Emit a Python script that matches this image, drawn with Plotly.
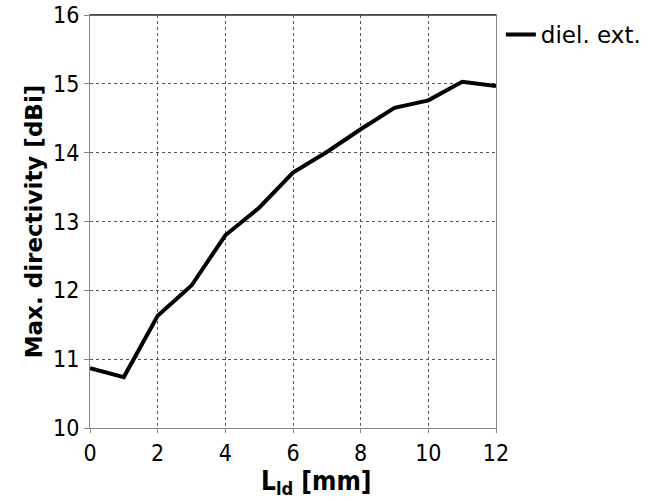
import plotly.graph_objects as go

# Dielectric extension length vs. maximum directivity
l_ld_mm = [0, 1, 2, 3, 4, 5, 6, 7, 8, 9, 10, 11, 12]
max_directivity_dbi = [10.87, 10.74, 11.63, 12.07, 12.80, 13.20, 13.71, 14.01, 14.34, 14.65, 14.76, 15.03, 14.97]
x_ticks = [0, 2, 4, 6, 8, 10, 12]
y_ticks = [10, 11, 12, 13, 14, 15, 16]

FONT = "DejaVu Sans"
FONT_C = "DejaVu Sans Condensed, DejaVu Sans"

fig = go.Figure()
fig.add_trace(go.Scatter(
    x=l_ld_mm, y=max_directivity_dbi, mode="lines", name="diel. ext.",
    line=dict(color="black", width=4),
))

fig.update_layout(
    width=658, height=501,
    margin=dict(l=90, r=162, t=15, b=73),
    paper_bgcolor="white", plot_bgcolor="white",
    font=dict(family=FONT, color="black"),
    showlegend=True,
    legend=dict(x=1.012, y=1.005, xanchor="left", yanchor="top",
                font=dict(family=FONT, size=23), bgcolor="rgba(0,0,0,0)",
                itemwidth=30, tracegroupgap=0),
    xaxis=dict(
        range=[0, 12], tickvals=x_ticks, ticktext=[str(v) for v in x_ticks],
        showgrid=True, gridcolor="#555", griddash="dot", gridwidth=1,
        showline=True, linecolor="#888", linewidth=1, mirror=True,
        ticks="outside", ticklen=4, tickcolor="#888",
        tickfont=dict(family=FONT_C, size=23),
        zeroline=False, automargin=False,
    ),
    yaxis=dict(
        range=[10, 16], tickvals=y_ticks,
        showgrid=True, gridcolor="#555", griddash="dot", gridwidth=1,
        showline=True, linecolor="#888", linewidth=1, mirror=True,
        ticks="outside", ticklen=5, tickcolor="#888",
        tickfont=dict(family=FONT_C, size=23),
        title=dict(text="<b>Max. directivity [dBi]</b>", font=dict(family=FONT, size=23), standoff=4),
        zeroline=False, automargin=False,
    ),
)

# x-axis title, placed slightly right of the plot centre
fig.add_annotation(
    text="<b>L<sub>ld</sub> [mm]</b>", xref="paper", yref="paper",
    x=0.559, y=-0.131, xanchor="center", yanchor="middle", showarrow=False,
    font=dict(family=FONT_C, size=26),
)

# Dark upper frame edge
fig.add_shape(type="line", xref="paper", yref="paper", x0=0, x1=1, y0=1, y1=1,
              line=dict(color="#333", width=1.5))

fig.write_html("out.html")
